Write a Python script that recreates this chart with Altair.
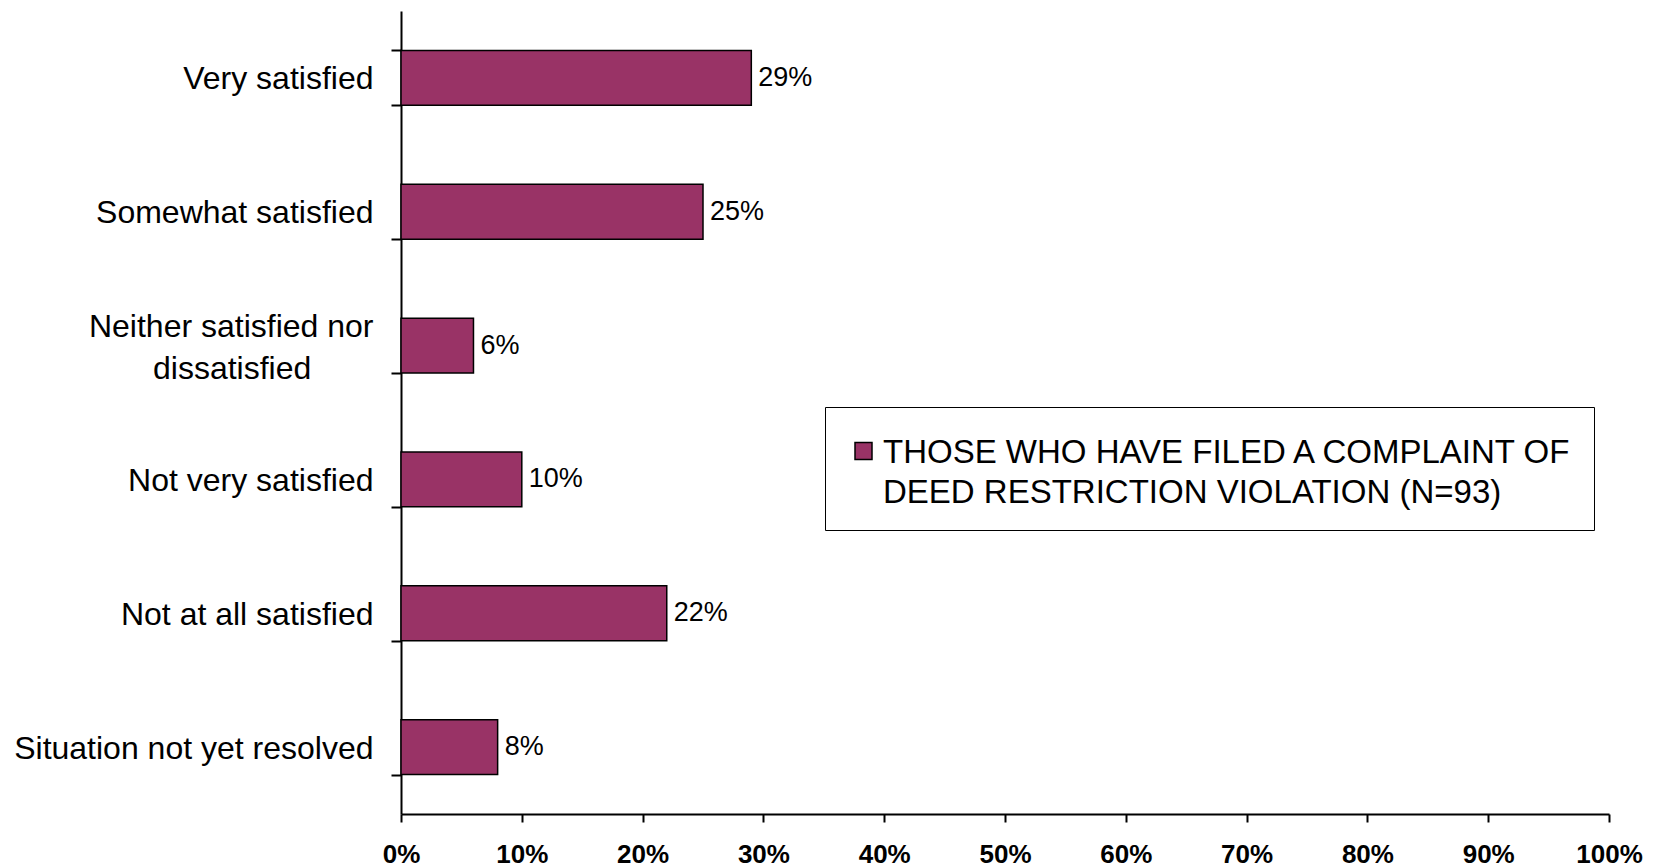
import altair as alt
import pandas as pd

categories = [
    "Very satisfied",
    "Somewhat satisfied",
    "Neither satisfied nor dissatisfied",
    "Not very satisfied",
    "Not at all satisfied",
    "Situation not yet resolved",
]
values = [0.29, 0.25, 0.06, 0.10, 0.22, 0.08]
series_name = "THOSE WHO HAVE FILED A COMPLAINT OF DEED RESTRICTION VIOLATION (N=93)"
x_ticks = [0.0, 0.1, 0.2, 0.3, 0.4, 0.5, 0.6, 0.7, 0.8, 0.9, 1.0]

df = pd.DataFrame({"category": categories, "value": values, "series": [series_name] * len(categories)})

FONT = "Liberation Sans"
PAD = "\u00a0" * 7 + "\u200b"
WRAPPED = "Neither satisfied nor dissatisfied"

y_enc = alt.Y(
    "category:N",
    sort=categories,
    title=None,
    scale=alt.Scale(paddingInner=0.59, paddingOuter=0.295),
    axis=alt.Axis(
        tickBand="extent",
        tickSize=10,
        tickColor="black",
        tickWidth=2,
        domainColor="black",
        domainWidth=2,
        labelFont=FONT,
        labelFontSize=32,
        labelColor="black",
        labelPadding=18,
        labelLimit=500,
        labelLineHeight=42,
        labelOffset={"condition": {"test": f"datum.value == '{WRAPPED}'", "value": -19}, "value": 1},
        labelExpr=f"datum.label == '{WRAPPED}' ? ['Neither satisfied nor', 'dissatisfied{PAD}'] : datum.label",
    ),
)

x_enc = alt.X(
    "value:Q",
    title=None,
    scale=alt.Scale(domain=[0, 1], nice=False, zero=True),
    axis=alt.Axis(
        values=x_ticks,
        format=".0%",
        grid=False,
        tickSize=8,
        tickColor="black",
        tickWidth=2,
        domainColor="black",
        domainWidth=2,
        labelFont=FONT,
        labelFontSize=26,
        labelFontWeight="bold",
        labelColor="black",
        labelPadding=19,
        labelFlush=False,
    ),
)

bars = alt.Chart(df).mark_bar(stroke="black", strokeWidth=1.5).encode(
    y=y_enc,
    x=x_enc,
    color=alt.Color(
        "series:N",
        scale=alt.Scale(range=["#993366"]),
        legend=alt.Legend(
            title="\u200b",
            titleFontSize=1,
            titlePadding=18,
            orient="none",
            legendX=424,
            legendY=396,
            padding=20,
            strokeColor="black",
            fillColor="white",
            symbolType="M-1,-2.35H1V-0.35H-1Z",
            symbolSize=289,
            symbolStrokeColor="black",
            symbolStrokeWidth=1.5,
            symbolOffset=2,
            labelFont=FONT,
            labelFontSize=33,
            labelColor="black",
            labelBaseline="alphabetic",
            labelOffset=3,
            labelLimit=2000,
            labelExpr="[substring(datum.label, 0, indexof(datum.label, ' DEED')), substring(datum.label, indexof(datum.label, ' DEED') + 1)]",
        ),
    ),
)

labels = alt.Chart(df).mark_text(
    align="left", baseline="middle", dx=7, font=FONT, fontSize=27, color="black"
).encode(
    y=alt.Y("category:N", sort=categories),
    x="value:Q",
    text=alt.Text("value:Q", format=".0%"),
)

chart = (
    alt.layer(bars, labels)
    .properties(
        width=1208,
        height=803,
        autosize=alt.AutoSizeParams(type="none"),
        padding={"left": 393, "top": 3, "right": 37, "bottom": 50},
    )
    .configure(style={"guide-label": {"lineHeight": 40}})
    .configure_view(stroke=None)
)

chart.save("out.html", embed_options={"renderer": "svg", "actions": False})
